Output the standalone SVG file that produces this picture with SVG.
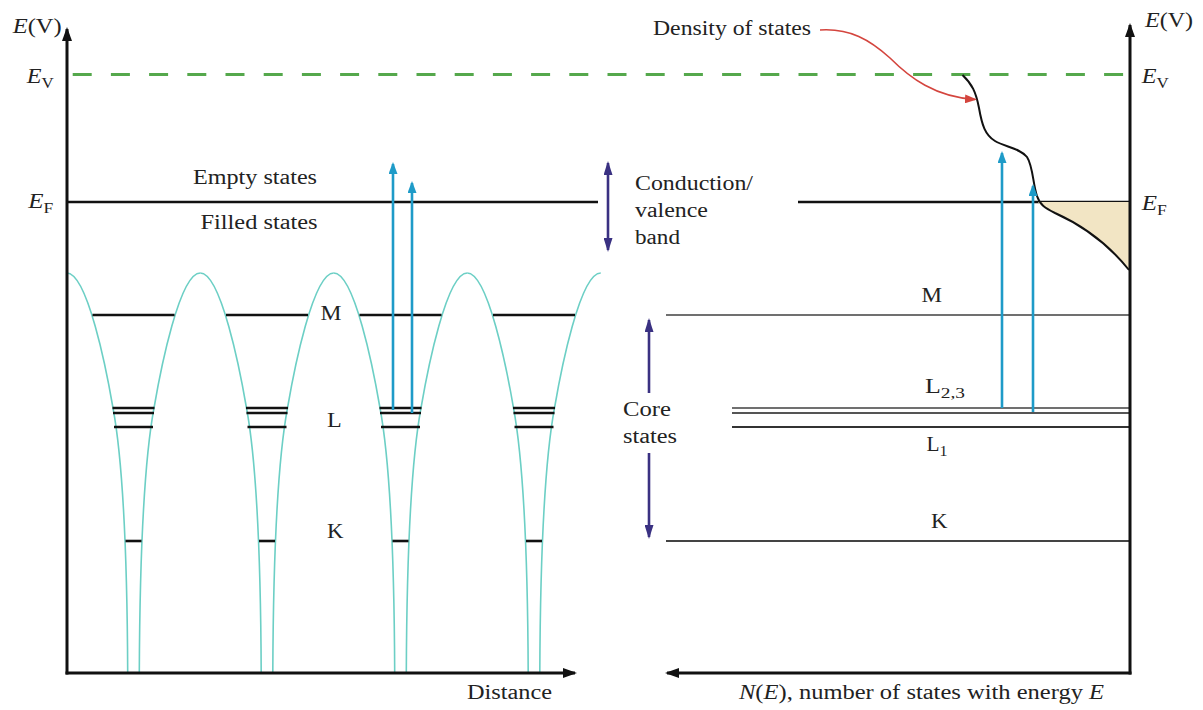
<svg xmlns="http://www.w3.org/2000/svg" width="1203" height="710" viewBox="0 0 1203 710">
<defs>
<style>
text{font-family:"Liberation Serif","Times New Roman",serif;font-size:20px;fill:#222}
.it{font-style:italic}
.sub{font-size:14px;font-style:normal}
.sub2{font-size:15px;font-style:normal}
.ax{stroke:#111;stroke-width:3;fill:none}
.lv{stroke:#111;stroke-width:2.6}
.wl{fill:none;stroke:#6ccfc5;stroke-width:1.6}
.cy{stroke:#1e9bc8;stroke-width:2.6;fill:none}
.nv{stroke:#3a3182;stroke-width:2.6;fill:none}
.rl{stroke-width:2}
</style>
<marker id="mK" viewBox="0 0 14 10" refX="12" refY="5" markerWidth="14" markerHeight="10" markerUnits="userSpaceOnUse" orient="auto"><path d="M0,0L14,5L0,10Z" fill="#111"/></marker>
<marker id="mC" viewBox="0 0 12 9" refX="10" refY="4.5" markerWidth="12" markerHeight="9" markerUnits="userSpaceOnUse" orient="auto"><path d="M0,0L12,4.5L0,9Z" fill="#1e9bc8"/></marker>
<marker id="mN" viewBox="0 0 14 9" refX="12" refY="4.5" markerWidth="14" markerHeight="9" markerUnits="userSpaceOnUse" orient="auto-start-reverse"><path d="M0,0L14,4.5L0,9Z" fill="#3a3182"/></marker>
<marker id="mR" viewBox="0 0 12 9" refX="10" refY="4.5" markerWidth="12" markerHeight="9" markerUnits="userSpaceOnUse" orient="auto"><path d="M0,0L12,4.5L0,9Z" fill="#d4453e"/></marker>
<g id="well">
<path class="wl" d="M-66.75,273 C-46,273 -27,370 -20.5,408 C-9,470 -6.2,580 -5.8,673 M5.8,673 C6.2,580 9,470 20.5,408 C27,370 46,273 66.75,273"/>
<line class="lv" x1="-41" y1="315" x2="41" y2="315"/>
<line class="lv" x1="-21" y1="408" x2="21" y2="408"/>
<line class="lv" x1="-20.5" y1="413" x2="20.5" y2="413"/>
<line class="lv" x1="-19.5" y1="427" x2="19.5" y2="427"/>
<line class="lv" x1="-8" y1="541" x2="8" y2="541"/>
</g>
</defs>
<rect width="1203" height="710" fill="#fff"/>

<!-- green vacuum level -->
<line x1="72.7" y1="74.5" x2="1124" y2="74.5" stroke="#55a84c" stroke-width="3" stroke-dasharray="19 19.2"/>

<!-- left panel: potential wells -->
<g id="well-1" transform="translate(133.5,0)"><use href="#well"/></g>
<g id="well-2" transform="translate(267,0)"><use href="#well"/></g>
<g id="well-3" transform="translate(400.5,0)"><use href="#well"/></g>
<g id="well-4" transform="translate(534,0)"><use href="#well"/></g>

<!-- Fermi levels -->
<line class="lv" x1="67" y1="202" x2="598" y2="202"/>
<line class="lv" x1="798" y1="202" x2="1130" y2="202"/>

<!-- right panel: density of states -->
<g id="dos">
<path d="M1038,202 C1041,206 1046,209 1055,213 C1075,222 1105,240 1129,270 L1129,202 Z" fill="#f2e5c4"/>
<path d="M962.5,75 C972,84 976,92 979,108 C982,125 985,135 995,141 C1005,147 1020,148 1027,157 C1033,166 1033,185 1037,196 C1040,205 1045,208 1055,213 C1075,222 1105,240 1129,270" fill="none" stroke="#111" stroke-width="2"/>
</g>

<!-- right panel core levels -->
<g id="levels-right">
<line class="rl" x1="666" y1="315" x2="1130" y2="315" stroke="#707070"/>
<line class="rl" x1="732" y1="408" x2="1130" y2="408" stroke="#707070" stroke-width="1.8"/>
<line class="rl" x1="732" y1="413" x2="1130" y2="413" stroke="#555" stroke-width="1.8"/>
<line class="rl" x1="732" y1="427" x2="1130" y2="427" stroke="#333" stroke-width="1.8"/>
<line class="rl" x1="666" y1="541" x2="1130" y2="541" stroke="#444"/>
</g>

<!-- connectors / arrows -->
<g id="connectors">
<line class="ax" x1="67" y1="674.5" x2="67" y2="29" marker-end="url(#mK)"/>
<line class="ax" x1="65.5" y1="673" x2="575" y2="673" marker-end="url(#mK)"/>
<line class="ax" x1="1130" y1="674.5" x2="1130" y2="25" marker-end="url(#mK)"/>
<line class="ax" x1="1131.5" y1="673" x2="667" y2="673" marker-end="url(#mK)"/>
<line class="cy" x1="393" y1="410" x2="393" y2="164" marker-end="url(#mC)"/>
<line class="cy" x1="412" y1="413" x2="412" y2="183" marker-end="url(#mC)"/>
<line class="cy" x1="1002" y1="408" x2="1002" y2="153" marker-end="url(#mC)"/>
<line class="cy" x1="1033" y1="412" x2="1033" y2="186" marker-end="url(#mC)"/>
<line class="nv" x1="608" y1="163" x2="608" y2="250" marker-start="url(#mN)" marker-end="url(#mN)"/>
<line class="nv" x1="649" y1="393" x2="649" y2="320" marker-end="url(#mN)"/>
<line class="nv" x1="649" y1="453" x2="649" y2="537" marker-end="url(#mN)"/>
<path d="M820,30 C850,28 870,40 890,58 C910,78 935,97 975,99.5" fill="none" stroke="#d4453e" stroke-width="1.6" marker-end="url(#mR)"/>
</g>

<!-- labels -->
<g id="labels">
<text x="12.7" y="33" textLength="49" lengthAdjust="spacingAndGlyphs"><tspan class="it">E</tspan>(V)</text>
<text x="1145" y="27" textLength="48" lengthAdjust="spacingAndGlyphs"><tspan class="it">E</tspan>(V)</text>
<text x="26.7" y="83" textLength="27" lengthAdjust="spacingAndGlyphs"><tspan class="it">E</tspan><tspan class="sub" dy="5">V</tspan></text>
<text x="1141.7" y="83" textLength="27" lengthAdjust="spacingAndGlyphs"><tspan class="it">E</tspan><tspan class="sub" dy="5">V</tspan></text>
<text x="28.3" y="208" textLength="25" lengthAdjust="spacingAndGlyphs"><tspan class="it">E</tspan><tspan class="sub" dy="5">F</tspan></text>
<text x="1141.7" y="210" textLength="25" lengthAdjust="spacingAndGlyphs"><tspan class="it">E</tspan><tspan class="sub" dy="5">F</tspan></text>
<text x="193" y="184" textLength="124" lengthAdjust="spacingAndGlyphs">Empty states</text>
<text x="200.5" y="229" textLength="117" lengthAdjust="spacingAndGlyphs">Filled states</text>
<text x="653" y="35" textLength="158" lengthAdjust="spacingAndGlyphs">Density of states</text>
<text x="635" y="190" textLength="118" lengthAdjust="spacingAndGlyphs">Conduction/</text>
<text x="635" y="217" textLength="73" lengthAdjust="spacingAndGlyphs">valence</text>
<text x="635" y="244" textLength="45" lengthAdjust="spacingAndGlyphs">band</text>
<text x="623" y="416" textLength="48" lengthAdjust="spacingAndGlyphs">Core</text>
<text x="623" y="443" textLength="54" lengthAdjust="spacingAndGlyphs">states</text>
<text x="320.5" y="320" textLength="21" lengthAdjust="spacingAndGlyphs">M</text>
<text x="327" y="427" textLength="14.7" lengthAdjust="spacingAndGlyphs">L</text>
<text x="327" y="538" textLength="16.5" lengthAdjust="spacingAndGlyphs">K</text>
<text x="921.5" y="302" textLength="20.5" lengthAdjust="spacingAndGlyphs">M</text>
<text x="925" y="393" textLength="40" lengthAdjust="spacingAndGlyphs">L<tspan class="sub2" dy="5">2,3</tspan></text>
<text x="926.5" y="451" textLength="21" lengthAdjust="spacingAndGlyphs">L<tspan class="sub2" dy="5">1</tspan></text>
<text x="931" y="528" textLength="16.5" lengthAdjust="spacingAndGlyphs">K</text>
<text x="467" y="699" textLength="85" lengthAdjust="spacingAndGlyphs">Distance</text>
<text x="739" y="699" textLength="365" lengthAdjust="spacingAndGlyphs"><tspan class="it">N</tspan>(<tspan class="it">E</tspan>), number of states with energy <tspan class="it">E</tspan></text>
</g>
</svg>
